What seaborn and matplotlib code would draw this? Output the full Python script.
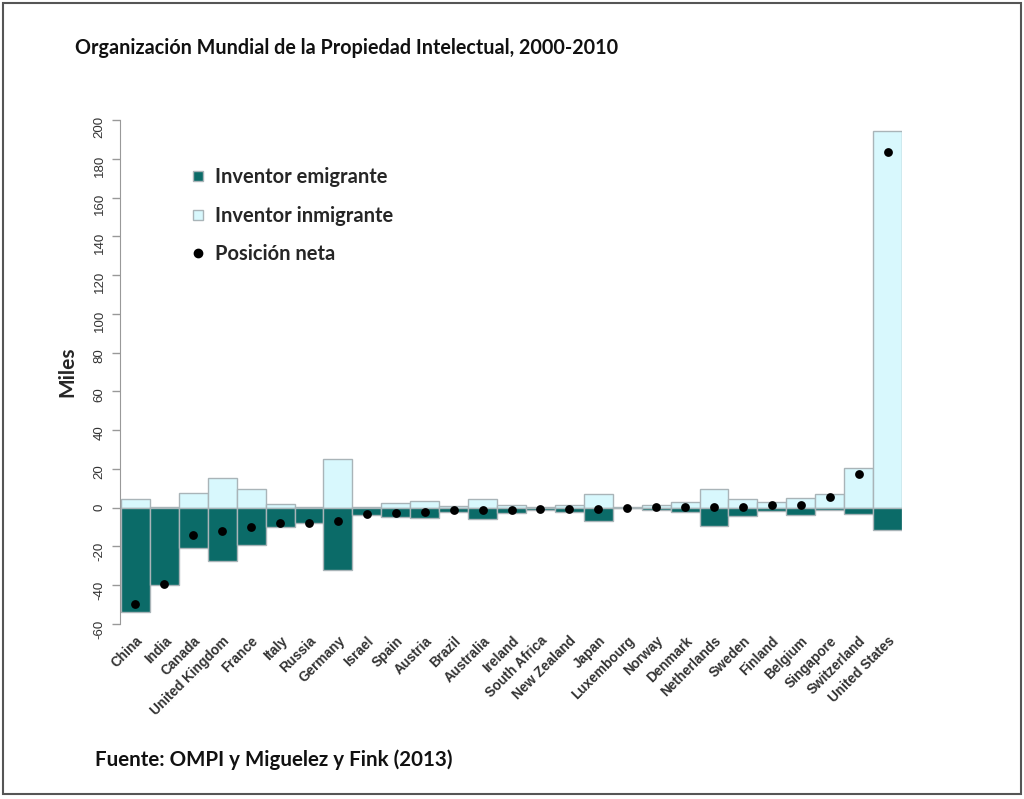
import matplotlib
matplotlib.use("Agg")
import matplotlib.pyplot as plt
import seaborn as sns
import pandas as pd
from matplotlib.lines import Line2D
from matplotlib.patches import Rectangle

countries = ["China", "India", "Canada", "United Kingdom", "France", "Italy", "Russia",
             "Germany", "Israel", "Spain", "Austria", "Brazil", "Australia", "Ireland",
             "South Africa", "New Zealand", "Japan", "Luxembourg", "Norway", "Denmark",
             "Netherlands", "Sweden", "Finland", "Belgium", "Singapore", "Switzerland",
             "United States"]
emigrante = [-54, -40, -21, -27.6, -19, -9.8, -7.9, -32, -3.8, -5.0, -5.3, -2.0, -5.8, -2.7,
             -1.2, -2.0, -7.0, -0.3, -1.2, -2.4, -9.3, -4.1, -1.9, -3.6, -1.4, -3.1, -11.3]
inmigrante = [4.5, 0.5, 7.6, 15.5, 9.6, 1.9, 0.3, 25.3, 0.6, 2.5, 3.3, 0.7, 4.5, 1.5,
              0.4, 1.2, 7.0, 0.3, 1.4, 2.7, 9.6, 4.6, 3.1, 5.0, 7.0, 20.3, 194.5]
neta = [-49.6, -39.5, -14.3, -11.9, -10.0, -7.9, -7.7, -6.8, -3.1, -2.5, -2.0, -1.3, -1.4, -1.1,
        -0.9, -0.8, -0.5, 0.0, 0.2, 0.2, 0.4, 0.5, 1.4, 1.4, 5.5, 17.2, 183.3]
y_ticks = [-60, -40, -20, 0, 20, 40, 60, 80, 100, 120, 140, 160, 180, 200]

df = pd.DataFrame({"pais": countries, "emi": emigrante, "inm": inmigrante, "neta": neta})

teal = "#0b6b68"
light = "#d8f8fd"
edge = "#a9b4b8"
head_font = ["Lato", "DejaVu Sans"]

sns.set_style("white")
plt.rcParams["font.family"] = ["Liberation Sans", "DejaVu Sans"]

W, H = 1024, 799
fig = plt.figure(figsize=(W / 100, H / 100), dpi=100)
ax = fig.add_axes([121 / W, 1 - 624 / H, 781 / W, (624 - 120) / H])

sns.barplot(data=df, x="pais", y="inm", color=light, width=1, edgecolor=edge,
            linewidth=1, saturation=1, ax=ax, errorbar=None)
sns.barplot(data=df, x="pais", y="emi", color=teal, width=1, edgecolor=edge,
            linewidth=1, saturation=1, ax=ax, errorbar=None)
sns.scatterplot(data=df, x="pais", y="neta", color="black", s=40, ax=ax, zorder=5,
                edgecolor="black", linewidth=0)

ax.set_xlim(-0.5, len(countries) - 0.5)
ax.set_ylim(-60, 200)
ax.set_yticks(y_ticks)
ax.set_yticklabels([str(v) for v in y_ticks])
ax.tick_params(axis="y", length=6, width=1, color="#999999", pad=4, left=True,
               labelrotation=90, labelsize=9.5, labelcolor="#333333")
for lab in ax.get_yticklabels():
    lab.set_verticalalignment("center")
ax.tick_params(axis="x", length=0, pad=7)
ax.set_xticks(range(len(countries)))
ax.set_xticklabels(countries, rotation=45, ha="right", rotation_mode="anchor",
                   fontsize=9.8, fontweight="bold", color="#333333")
for s in ["top", "right", "bottom"]:
    ax.spines[s].set_visible(False)
ax.spines["left"].set_color("#999999")
ax.spines["left"].set_position(("outward", 1))
ax.set_xlabel("")
ax.set_ylabel("Miles", fontsize=15, fontweight="bold", family=head_font, labelpad=12)

handles = [
    Line2D([], [], marker="s", linestyle="none", markersize=7.5, markerfacecolor=teal,
           markeredgecolor=edge, label="Inventor emigrante"),
    Line2D([], [], marker="s", linestyle="none", markersize=7.5, markerfacecolor=light,
           markeredgecolor=edge, label="Inventor inmigrante"),
    Line2D([], [], marker="o", linestyle="none", markersize=6, markerfacecolor="black",
           markeredgecolor="black", label="Posición neta"),
]
ax.legend(handles=handles, loc="upper left", bbox_to_anchor=(0.062, 0.942), frameon=False,
          prop={"family": head_font, "weight": "bold", "size": 14.5},
          handletextpad=0.35, labelspacing=0.92, handlelength=1.0)

fig.text(75 / W, 1 - 48 / H, "Organización Mundial de la Propiedad Intelectual, 2000-2010",
         fontsize=14.2, fontweight="bold", family=head_font,
         va="center", ha="left", color="#111111")
fig.text(95 / W, 1 - 760 / H, "Fuente: OMPI y Miguelez y Fink (2013)",
         fontsize=14.8, fontweight="bold", family=head_font,
         va="center", ha="left", color="#111111")

fig.patches.append(Rectangle((2.5 / W, 5 / H), 1 - 6 / W, 1 - 7.5 / H, transform=fig.transFigure,
                             fill=False, edgecolor="#555555", linewidth=1.5))

fig.savefig("out.png", dpi=100)
